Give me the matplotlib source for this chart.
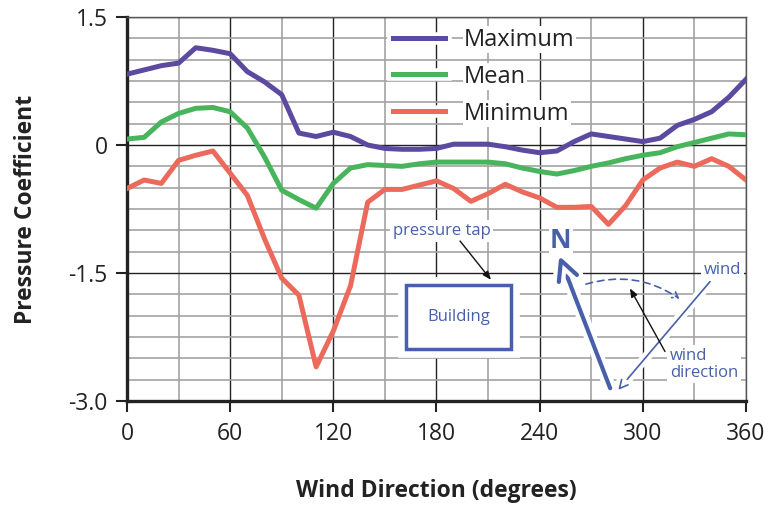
"""
Pressure coefficient vs wind direction, with a small sketch of the set-up.
"""

import numpy as np
import matplotlib
matplotlib.use('Agg')
import matplotlib.pyplot as plt
import matplotlib.patheffects as pe
from matplotlib.patches import Rectangle, FancyArrowPatch

# data (every 10 degrees)
wind_dir = [0, 10, 20, 30, 40, 50, 60, 70, 80, 90, 100, 110, 120, 130, 140,
            150, 160, 170, 180, 190, 200, 210, 220, 230, 240, 250, 260, 270,
            280, 290, 300, 310, 320, 330, 340, 350, 360]
cp_max = [0.83, 0.88, 0.93, 0.96, 1.14, 1.11, 1.07, 0.86, 0.74, 0.59, 0.14,
          0.10, 0.15, 0.10, 0.00, -0.04, -0.05, -0.05, -0.04, 0.01, 0.01,
          0.01, -0.02, -0.06, -0.09, -0.07, 0.04, 0.13, 0.10, 0.07, 0.04,
          0.08, 0.23, 0.30, 0.39, 0.56, 0.77]
cp_mean = [0.07, 0.09, 0.27, 0.37, 0.43, 0.44, 0.39, 0.20, -0.14, -0.53,
           -0.64, -0.74, -0.45, -0.27, -0.23, -0.24, -0.25, -0.22, -0.20,
           -0.20, -0.20, -0.20, -0.22, -0.27, -0.31, -0.34, -0.30, -0.25,
           -0.21, -0.16, -0.12, -0.09, -0.02, 0.03, 0.08, 0.13, 0.12]
cp_min = [-0.51, -0.41, -0.45, -0.18, -0.12, -0.07, -0.33, -0.59, -1.10,
          -1.56, -1.76, -2.60, -2.18, -1.65, -0.67, -0.52, -0.52, -0.47,
          -0.42, -0.51, -0.66, -0.57, -0.46, -0.55, -0.62, -0.73, -0.73,
          -0.72, -0.93, -0.71, -0.41, -0.27, -0.20, -0.25, -0.16, -0.25,
          -0.41]
series_names = ['Maximum', 'Mean', 'Minimum']
xticks = [0, 60, 120, 180, 240, 300, 360]
yticks = [-3.0, -1.5, 0, 1.5]
ytick_labels = ['-3.0', '-1.5', '0', '1.5']

purple = '#5b4a9f'
green = '#48b45c'
red = '#ec6a5c'
blue = '#4760a9'

plt.rcParams['font.family'] = ['Open Sans', 'DejaVu Sans']

fig = plt.figure(figsize=(7.69, 5.05), dpi=100)
ax = fig.add_axes([0.1651, 0.2059, 0.805, 0.7604])

# grid
ax.set_xlim(0, 360)
ax.set_ylim(-3.0, 1.5)
ax.set_xticks(xticks)
ax.set_xticks(np.arange(0, 361, 30), minor=True)
ax.set_yticks(yticks)
ax.set_yticklabels(ytick_labels)
ax.set_yticks(np.arange(-3.0, 1.51, 0.25), minor=True)
ax.grid(which='minor', color='#a3a3a3', lw=1.2, zorder=0)
ax.grid(which='major', color='#222222', lw=1.0, zorder=0)
ax.set_axisbelow(True)
ax.tick_params(which='minor', length=0)
ax.tick_params(which='major', direction='out', length=8, width=1.5,
               labelsize=16.5, colors='#222222', pad=6)
ax.tick_params(axis='x', pad=7)
for s in ['left', 'bottom']:
    ax.spines[s].set_linewidth(2.4)
    ax.spines[s].set_color('#222222')
for s in ['top', 'right']:
    ax.spines[s].set_linewidth(1.0)
    ax.spines[s].set_color('#555555')

# curves
ax.plot(wind_dir, cp_max, color=purple, lw=3.6, label=series_names[0], zorder=3)
ax.plot(wind_dir, cp_mean, color=green, lw=3.6, label=series_names[1], zorder=3)
ax.plot(wind_dir, cp_min, color=red, lw=3.6, label=series_names[2], zorder=3)

leg = ax.legend(loc='upper left', bbox_to_anchor=(0.43, 0.972), frameon=False,
                fontsize=17, handlelength=2.2, handletextpad=0.8,
                labelspacing=0.55, borderpad=0, borderaxespad=0)
for t in leg.get_texts():
    t.set_color('#222222')
    t.set_bbox(dict(fc='white', ec='none', pad=1))
for ln in leg.get_lines():
    ln.set_path_effects([pe.Stroke(linewidth=9, foreground='white'), pe.Normal()])

ax.set_xlabel('Wind Direction (degrees)', fontsize=16.5, fontweight='bold',
              color='#222222', labelpad=24)
ax.set_ylabel('Pressure Coefficient', fontsize=16.5, fontweight='bold',
              color='#222222', labelpad=22)

# sketch: building and pressure tap
halo = [pe.Stroke(linewidth=12, foreground='white'), pe.Normal()]
box = Rectangle((162.3, -2.39), 61, 0.75, fc='white', ec=blue, lw=2.5, zorder=4)
box.set_path_effects(halo)
ax.add_patch(box)
ax.text(192.8, -2.02, 'Building', color=blue, fontsize=12, ha='center',
        va='center', zorder=5)
ax.text(183, -1.01, 'pressure tap', color=blue, fontsize=12, ha='center',
        va='center', zorder=5, bbox=dict(fc='white', ec='none', pad=2))
ax.annotate('', xy=(211.7, -1.58), xytext=(193.7, -1.125), zorder=5,
            arrowprops=dict(arrowstyle='-|>,head_length=0.5,head_width=0.2',
                            color='#111111', lw=1, shrinkA=0, shrinkB=0))

# north arrow
n_arr = ax.annotate('', xy=(251.4, -1.30), xytext=(281, -2.85), zorder=5,
                    arrowprops=dict(arrowstyle='->,head_length=1.4,head_width=0.7',
                                    color=blue, lw=3, shrinkA=0, shrinkB=0))
n_arr.arrow_patch.set_path_effects([pe.Stroke(linewidth=9, foreground='white'),
                                    pe.Normal()])
ax.text(252.2, -1.12, 'N', color=blue, fontsize=19, fontweight='bold',
        ha='center', va='center', zorder=5,
        bbox=dict(fc='white', ec='none', pad=1))

# wind arrow and direction arc
w_arr = ax.annotate('', xy=(285.7, -2.87), xytext=(339.1, -1.60), zorder=5,
                    arrowprops=dict(arrowstyle='->,head_length=0.6,head_width=0.3',
                                    color=blue, lw=1.2, shrinkA=0, shrinkB=0))
w_arr.arrow_patch.set_path_effects([pe.Stroke(linewidth=7, foreground='white'),
                                    pe.Normal()])
ax.text(346.4, -1.465, 'wind', color=blue, fontsize=12, ha='center',
        va='center', zorder=5, bbox=dict(fc='white', ec='none', pad=2))
arc = FancyArrowPatch((265.4, -1.64), (322.6, -1.82),
                      connectionstyle='arc3,rad=-0.25',
                      arrowstyle='->,head_length=4,head_width=2.5',
                      color=blue, lw=1.2, linestyle=(0, (4, 3)), zorder=5)
ax.add_patch(arc)
ax.annotate('', xy=(292.5, -1.68), xytext=(312.9, -2.42), zorder=5,
            arrowprops=dict(arrowstyle='-|>,head_length=0.5,head_width=0.2',
                            color='#111111', lw=1, shrinkA=0, shrinkB=0))
ax.text(315.8, -2.57, 'wind\ndirection', color=blue, fontsize=12, ha='left',
        va='center', linespacing=1.05, zorder=5,
        bbox=dict(fc='white', ec='none', pad=2))

fig.savefig('out.png', dpi=100)
